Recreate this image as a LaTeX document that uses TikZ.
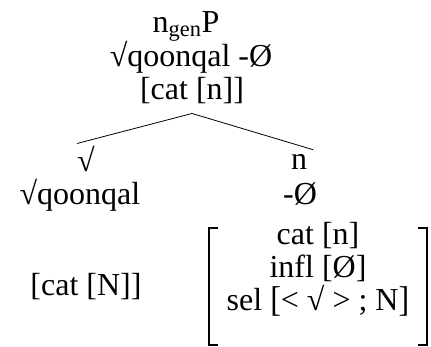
\documentclass[tikz,border=0pt]{standalone}
\usepackage{fontspec}
\setmainfont{Liberation Serif}
\usetikzlibrary{positioning}

\newcommand{\tallbr}[1]{\raisebox{-1pt}{\scalebox{1}[1.12]{#1}}}

\begin{document}
\begin{tikzpicture}[x=1pt,y=-1pt,
  lbl/.style={inner sep=0pt, anchor=base, font=\fontsize{32}{35}\selectfont},
  brk/.style={line width=1.5pt}]
\useasboundingbox (0,0) rectangle (431,347);
% root
\node[lbl] (root) at (186,33) {n\textsubscript{gen}P};
\node[lbl] (rootform) at (191,67) {√qoonqal -Ø};
\node[lbl] (rootcat) at (192,100) {[cat [n]]};
% left daughter
\node[lbl] (sq) at (86,172) {√};
\node[lbl] (sqform) at (80,205) {√qoonqal};
\node[lbl] (sqcat) at (86,296) {[cat [N]]};
% right daughter
\node[lbl] (n) at (299,170) {n};
\node[lbl] (nform) at (300,205) {-Ø};
\node[lbl] (fcat) at (318,245) {cat [n]};
\node[lbl] (finfl) at (318,278) {infl [Ø]};
\node[lbl] (fsel) at (318,311) {sel \tallbr{[}< √ > ; N\tallbr{]}};
% branches
\draw[line width=0.8pt] ([yshift=-9pt]rootcat.south) -- ([yshift=3pt]sq.north west);
\draw[line width=0.8pt] ([yshift=-9pt]rootcat.south) -- ([xshift=6pt,yshift=5pt]n.north east);
% feature matrix
\coordinate (tl) at (209,228);
\coordinate (bl) at (209,345);
\coordinate (tr) at (427,228);
\coordinate (br) at (427,345);
\draw[brk] ([xshift=9pt]tl) -- (tl) -- (bl) -- ([xshift=9pt]bl);
\draw[brk] ([xshift=-9pt]tr) -- (tr) -- (br) -- ([xshift=-9pt]br);
\end{tikzpicture}
\end{document}
